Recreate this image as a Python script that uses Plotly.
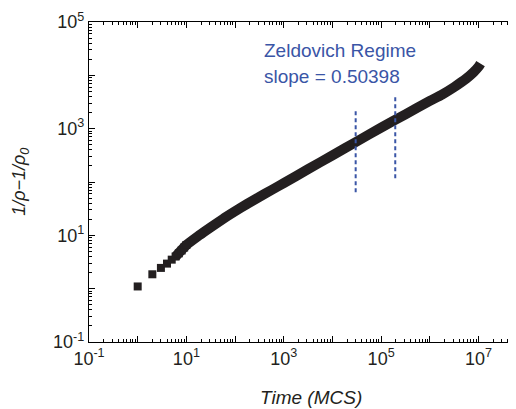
import plotly.graph_objects as go

# Early, individually resolved points (time in MCS, 1/rho - 1/rho0)
early_time = [1, 2, 3, 4, 5, 6, 7, 8, 9, 10]
early_val = [1.10, 1.86, 2.45, 2.95, 3.5, 4.0, 4.6, 5.2, 5.9, 6.6]

# Dense part of the data (read along the band)
band_time = [6, 10, 18, 32, 56, 100, 178, 316, 562, 1000, 3162, 10000,
             31623, 100000, 316228, 1000000, 1778279, 3162278, 5623413, 7943282,
             10000000, 11000000]
band_val = [4.0, 6.6, 9.9, 14.3, 20.2, 28.2, 38.9, 52.5, 70.8, 95.5, 174,
            316, 575, 1047, 1862, 3311, 4365, 6026, 8710, 11480, 14450, 16600]

# Zeldovich regime markers (dashed vertical lines)
regime_x = [3.0e4, 1.95e5]
regime_ylo = [64, 117]
regime_yhi = [2416, 4230]

x_tickvals = [10.0 ** k for k in range(-1, 8)]
x_ticktext = ["10<sup>-1</sup>", "", "10<sup>1</sup>", "", "10<sup>3</sup>", "",
              "10<sup>5</sup>", "", "10<sup>7</sup>"]
y_tickvals = [10.0 ** k for k in range(-1, 6)]
y_ticktext = ["10<sup>-1</sup>", "", "10<sup>1</sup>", "", "10<sup>3</sup>", "",
              "10<sup>5</sup>"]

minor_x = [m * 10.0 ** k for k in range(-1, 8) for m in range(2, 10)]
minor_y = [m * 10.0 ** k for k in range(-1, 5) for m in range(2, 10)]

dark = "#231f20"
blue = "#3a55a6"
font_fam = "Liberation Sans, Arial, sans-serif"

fig = go.Figure()
fig.add_trace(go.Scatter(x=band_time, y=band_val, mode="lines",
                         line=dict(color=dark, width=10, shape="spline", smoothing=0.5),
                         hoverinfo="skip"))
fig.add_trace(go.Scatter(x=early_time, y=early_val, mode="markers",
                         marker=dict(symbol="square", size=8, color=dark,
                                     line=dict(width=0))))
for xv, lo, hi in zip(regime_x, regime_ylo, regime_yhi):
    fig.add_trace(go.Scatter(x=[xv, xv], y=[lo, hi], mode="lines",
                             line=dict(color=blue, width=2, dash="4px,3px")))

axis_common = dict(type="log", showgrid=False, zeroline=False, showline=True,
                   linecolor="black", linewidth=1.2, ticks="inside", ticklen=6,
                   tickwidth=1, tickcolor="black", automargin=False,
                   tickfont=dict(family=font_fam, size=18, color="#231f20"))

fig.update_xaxes(**axis_common, range=[-1, 7.77], tickmode="array",
                 tickvals=x_tickvals, ticktext=x_ticktext, mirror="allticks",
                 minor=dict(ticks="inside", ticklen=3, tickcolor="black",
                            tickvals=minor_x))
fig.update_yaxes(**axis_common, range=[-1, 5], tickmode="array",
                 tickvals=y_tickvals, ticktext=y_ticktext, mirror=False,
                 minor=dict(ticks="inside", ticklen=3, tickcolor="black",
                            tickvals=minor_y))

fig.add_annotation(text="Zeldovich Regime", xref="paper", yref="paper",
                   x=0.405, y=0.910, xanchor="left", yanchor="middle",
                   showarrow=False, font=dict(family=font_fam, size=19, color=blue))
fig.add_annotation(text="slope = 0.50398", xref="paper", yref="paper",
                   x=0.405, y=0.829, xanchor="left", yanchor="middle",
                   showarrow=False, font=dict(family=font_fam, size=19, color=blue))
fig.add_annotation(text="<i>Time (MCS)</i>", xref="paper", yref="paper",
                   x=0.52, y=-0.172, xanchor="center", yanchor="middle",
                   showarrow=False, font=dict(family=font_fam, size=19, color=dark))
fig.add_annotation(text="<i>1/ρ−1/ρ<sub>0</sub></i>", xref="paper", yref="paper",
                   x=-0.162, y=0.50, xanchor="center", yanchor="middle",
                   textangle=-90, showarrow=False,
                   font=dict(family=font_fam, size=18, color=dark))

# The page body adds an 8px offset, so the figure is sized to fill the window
fig.update_layout(width=508, height=401, showlegend=False,
                  margin=dict(l=81, r=0, t=14, b=67, autoexpand=False),
                  paper_bgcolor="white", plot_bgcolor="white")

fig.write_html("out.html")
